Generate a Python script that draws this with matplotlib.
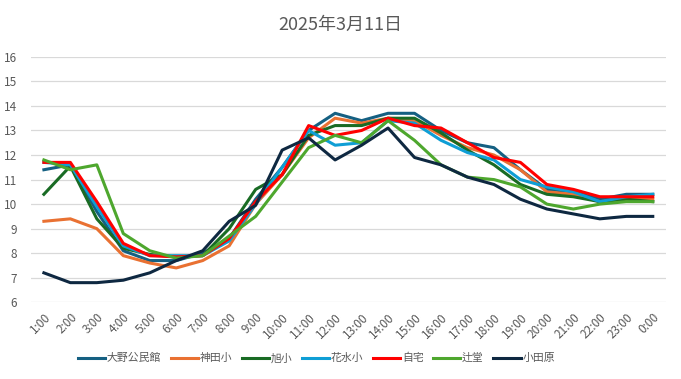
import matplotlib
matplotlib.use('Agg')
import matplotlib.pyplot as plt

plt.rcParams['font.family'] = ['Noto Sans CJK JP', 'DejaVu Sans']

hours = ['1:00', '2:00', '3:00', '4:00', '5:00', '6:00', '7:00', '8:00', '9:00', '10:00',
         '11:00', '12:00', '13:00', '14:00', '15:00', '16:00', '17:00', '18:00', '19:00',
         '20:00', '21:00', '22:00', '23:00', '0:00']

oono = [11.4, 11.6, 9.7, 8.1, 7.7, 7.7, 8.0, 8.6, 10.2, 11.5, 13.0, 13.7, 13.4, 13.7,
        13.7, 13.0, 12.5, 12.3, 11.4, 10.6, 10.5, 10.2, 10.4, 10.4]
kanda = [9.3, 9.4, 9.0, 7.9, 7.6, 7.4, 7.7, 8.3, 10.0, 11.2, 12.7, 13.5, 13.3, 13.5,
         13.4, 12.8, 12.3, 12.0, 11.4, 10.5, 10.4, 10.1, 10.2, 10.2]
asahi = [10.4, 11.55, 9.4, 8.2, 7.95, 7.85, 7.9, 9.0, 10.6, 11.2, 12.8, 13.2, 13.2, 13.5,
         13.5, 12.9, 12.2, 11.6, 10.8, 10.4, 10.3, 10.1, 10.2, 10.1]
hanamizu = [11.7, 11.6, 9.9, 8.3, 7.9, 7.9, 7.9, 8.5, 10.0, 11.5, 13.0, 12.4, 12.5, 13.4,
            13.3, 12.6, 12.1, 11.8, 11.0, 10.7, 10.5, 10.1, 10.3, 10.4]
jitaku = [11.7, 11.7, 10.1, 8.4, 7.9, 7.85, 7.9, 8.6, 10.1, 11.2, 13.2, 12.8, 13.0, 13.5,
          13.2, 13.1, 12.5, 11.9, 11.7, 10.8, 10.6, 10.3, 10.3, 10.3]
tsujido = [11.8, 11.4, 11.6, 8.8, 8.1, 7.8, 7.9, 8.7, 9.5, 10.9, 12.3, 12.8, 12.5, 13.4,
           12.6, 11.6, 11.1, 11.0, 10.7, 10.0, 9.8, 10.0, 10.1, 10.1]
odawara = [7.2, 6.8, 6.8, 6.9, 7.2, 7.7, 8.1, 9.3, 9.95, 12.2, 12.7, 11.8, 12.4, 13.1,
           11.9, 11.6, 11.1, 10.8, 10.2, 9.8, 9.6, 9.4, 9.5, 9.5]

names = ['大野公民館', '神田小', '旭小', '花水小', '自宅', '辻堂', '小田原']
series = [oono, kanda, asahi, hanamizu, jitaku, tsujido, odawara]
colors = ['#156082', '#E97132', '#196B24', '#0F9ED5', '#FF0000', '#4EA72E', '#0E2841']

fig = plt.figure(figsize=(6.81, 3.79), dpi=100)
ax = fig.add_axes([0.045, 0.2024, 0.933, 0.6476])

x = list(range(len(hours)))
for vals, name, c in zip(series, names, colors):
    ax.plot(x, vals, color=c, linewidth=2.2, label=name, solid_joinstyle='round')

ax.set_xlim(-0.5, len(hours) - 0.5)
ax.set_ylim(6, 16)
ax.set_yticks(range(6, 17))
ax.set_xticks(x)
ax.set_xticklabels(hours, rotation=45, ha='right', rotation_mode='anchor')
ax.tick_params(axis='both', length=0, labelsize=8.5, labelcolor='#595959')
ax.tick_params(axis='x', pad=6)
ax.tick_params(axis='y', pad=10)
ax.grid(axis='y', color='#D9D9D9', linewidth=0.9)
ax.set_axisbelow(True)
for s in ax.spines.values():
    s.set_visible(False)

fig.text(0.5, 0.934, '2025年3月11日', ha='center', va='center', fontsize=13, color='#595959')

fig.legend(loc='center left', bbox_to_anchor=(0.1, 0.055), ncol=7, frameon=False,
           fontsize=7.8, handlelength=2.5, handletextpad=0.15, columnspacing=0.9,
           labelcolor='#595959')

fig.savefig('out.png', dpi=100)
